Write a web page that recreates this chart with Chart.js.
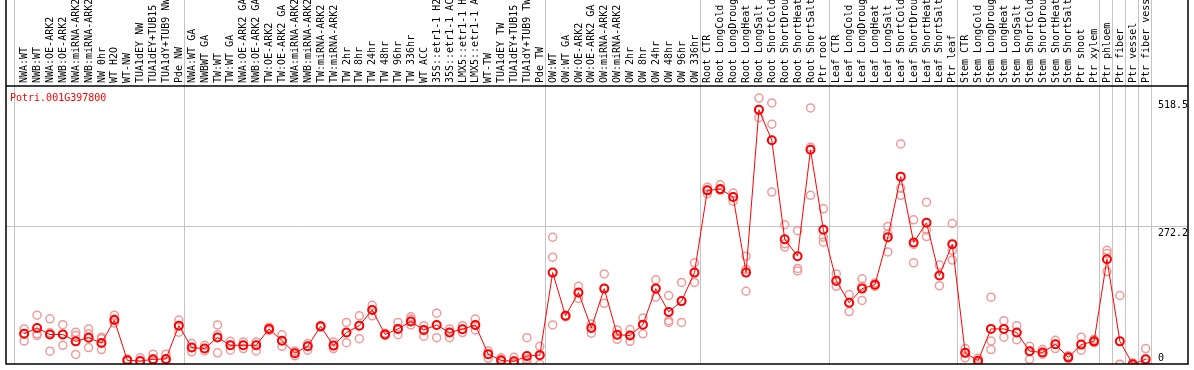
<!DOCTYPE html>
<html>
<head>
<meta charset="utf-8">
<script src="https://cdn.jsdelivr.net/npm/chart.js@4"></script>
<style>
  html, body { margin: 0; padding: 0; background: #fff; }
  canvas { display: block; }
</style>
</head>
<body>
<canvas id="chart" width="1194" height="370"></canvas>
<script>
const geneName = 'Potri.001G397800';

const categories = [
  'NWA:WT', 'NWB:WT', 'NWA:OE-ARK2', 'NWB:OE-ARK2', 'NWA:miRNA-ARK2', 'NWB:miRNA-ARK2', 'NW 0hr', 'WT H2O', 'WT-NW',
  'TUA1dEY NW', 'TUA1dEY+TUB15 NW', 'TUA1dY+TUB9 NW', 'Pde NW',
  'NWA:WT GA', 'NWBWT GA', 'TW:WT', 'TW:WT GA', 'NWA:OE-ARK2 GA', 'NWB:OE-ARK2 GA', 'TW:OE-ARK2', 'TW:OE-ARK2 GA',
  'NWA:miRNA-ARK2 GA', 'NWB:miRNA-ARK2 GA', 'TW:miRNA-ARK2', 'TW:miRNA-ARK2 GA', 'TW 2hr', 'TW 8hr', 'TW 24hr', 'TW 48hr',
  'TW 96hr', 'TW 336hr', 'WT ACC', '35S::etr1-1 H2O', '35S::etr1-1 ACC', 'LMX5::etr1-1 H2O', 'LMX5::etr1-1 ACC', 'WT-TW',
  'TUA1dEY TW', 'TUA1dEY+TUB15 TW', 'TUA1dY+TUB9 TW', 'Pde TW',
  'OW:WT', 'OW:WT GA', 'OW:OE-ARK2', 'OW:OE-ARK2 GA', 'OW:miRNA-ARK2', 'OW:miRNA-ARK2 GA', 'OW 2hr', 'OW 8hr', 'OW 24hr',
  'OW 48hr', 'OW 96hr', 'OW 336hr',
  'Root CTR', 'Root LongCold', 'Root LongDrought', 'Root LongHeat', 'Root LongSalt', 'Root ShortCold', 'Root ShortDrought',
  'Root ShortHeat', 'Root ShortSalt', 'Ptr root',
  'Leaf CTR', 'Leaf LongCold', 'Leaf LongDrought', 'Leaf LongHeat', 'Leaf LongSalt', 'Leaf ShortCold', 'Leaf ShortDrought',
  'Leaf ShortHeat', 'Leaf ShortSalt', 'Ptr leaf',
  'Stem CTR', 'Stem LongCold', 'Stem LongDrought', 'Stem LongHeat', 'Stem LongSalt', 'Stem ShortCold', 'Stem ShortDrought',
  'Stem ShortHeat', 'Stem ShortSalt', 'Ptr shoot', 'Ptr xylem',
  'Ptr phloem', 'Ptr fiber', 'Ptr vessel', 'Ptr fiber vessel'
];

// index of first category of each block (separator lines)
const groupStarts = [0, 13, 41, 53, 63, 73, 84, 85, 86, 87, 88];

const meanValues = [
  63.9, 75.2, 62.5, 62.5, 49.3, 56.3, 46.0, 90.4, 12.7, 11.4, 14.6, 15.2, 79.6,
  37.3, 35.4, 56.8, 41.7, 41.7, 41.7, 73.3, 50.6, 26.5, 39.8, 78.3, 41.1, 66.3, 79.6, 109.9, 62.5,
  73.3, 87.7, 71.4, 80.9, 66.3, 72.6, 80.9, 24.6, 12.7, 10.8, 20.8, 22.7,
  181.9, 98.5, 143.4, 75.2, 151.0, 62.0, 60.6, 81.5, 151.0, 106.1, 126.9, 181.9,
  340.5, 342.9, 327.8, 181.9, 495.8, 437.1, 246.3, 213.5, 418.7, 264.7,
  166.2, 123.7, 151.0, 158.6, 250.1, 367.0, 240.1, 277.9, 176.2, 236.8,
  27.1, 11.9, 73.3, 73.3, 66.3, 30.3, 27.9, 43.6, 18.4, 43.0, 49.3,
  207.8, 49.3, 5.1, 14.6
];

const rep1 = [
  73.3, 99.8, 92.8, 81.5, 66.9, 73.3, 57.4, 99.8, 15.2, 17.6, 24.6, 24.6, 90.4,
  44.9, 41.7, 80.9, 49.3, 47.9, 47.9, 76.4, 62.0, 30.9, 44.9, 79.6, 47.9, 85.8, 98.5, 118.8, 65.0,
  85.8, 96.6, 79.6, 103.6, 73.3, 79.6, 92.3, 30.9, 17.6, 18.4, 56.3, 39.8,
  250.1, 99.8, 155.4, 82.8, 179.4, 71.4, 72.0, 94.2, 168.1, 137.7, 162.9, 200.8,
  346.7, 351.1, 335.4, 213.5, 518.5, 509.1, 274.2, 262.8, 499.6, 305.0,
  179.4, 139.6, 170.0, 161.6, 270.9, 430.1, 283.6, 317.7, 196.5, 276.6,
  35.4, 16.5, 134.5, 89.1, 79.6, 39.8, 33.5, 51.2, 21.4, 57.4, 53.1,
  224.9, 137.7, 7.6, 35.4
];

const rep2 = [
  63.9, 63.9, 65.7, 62.5, 60.6, 63.9, 54.4, 92.3, 12.3, 11.4, 14.6, 14.6, 79.6,
  37.3, 35.4, 62.0, 41.7, 41.7, 41.7, 73.3, 50.6, 26.5, 39.8, 78.3, 41.1, 66.3, 79.6, 109.9, 62.5,
  73.3, 92.3, 70.1, 80.9, 66.3, 72.6, 80.9, 24.6, 12.7, 10.8, 15.2, 22.7,
  211.6, 98.5, 142.7, 75.2, 151.0, 62.0, 60.6, 81.5, 151.0, 89.1, 126.9, 181.9,
  340.5, 342.9, 327.8, 188.1, 496.4, 468.0, 237.4, 190.0, 423.8, 250.1,
  164.8, 123.7, 155.4, 158.6, 256.4, 344.8, 236.3, 263.9, 176.2, 224.9,
  27.1, 11.9, 49.8, 73.3, 66.3, 30.3, 27.9, 43.6, 18.4, 43.0, 49.3,
  218.5, 5.1, 5.1, 14.6
];

const rep3 = [
  49.8, 60.6, 30.3, 41.7, 24.1, 37.3, 33.5, 84.7, 11.4, 10.4, 11.4, 10.0, 66.9,
  29.0, 30.9, 27.1, 32.2, 35.4, 30.9, 70.1, 39.8, 21.4, 32.2, 76.4, 35.4, 46.8, 54.4, 98.5, 60.6,
  62.0, 80.9, 59.3, 56.3, 56.3, 66.3, 71.4, 16.5, 10.0, 7.0, 10.0, 5.1,
  80.9, 96.6, 132.1, 65.0, 122.6, 53.1, 49.3, 63.9, 134.5, 85.8, 85.8, 162.9,
  334.0, 340.5, 319.6, 145.9, 480.7, 337.3, 231.2, 185.1, 331.0, 240.6,
  155.4, 106.7, 128.3, 155.4, 221.7, 331.0, 200.8, 251.4, 156.7, 206.0,
  17.6, 8.1, 33.5, 57.4, 52.5, 14.6, 24.6, 35.4, 16.5, 32.2, 46.8,
  183.8, 4.7, 1.9, 7.0
];

const yTickValues = [518.5, 272.2, 0];
const yTickLabels = ['518.5', '272.2', '0'];
const yGridValues = [272.2];

const FONT = '10px "DejaVu Sans Mono", "Liberation Mono", monospace';

function toPoints(values) {
  return values.map((v, i) => ({ x: i, y: v }));
}

const repStyle = {
  showLine: false,
  pointRadius: 4,
  pointBorderWidth: 1.5,
  pointBorderColor: '#f09a9a',
  pointBackgroundColor: 'rgba(0,0,0,0)',
  order: 2
};

// grid lines, labels and frame
const decorPlugin = {
  id: 'decor',
  beforeDatasetsDraw(chart) {
    const ctx = chart.ctx;
    const xs = chart.scales.x;
    const ys = chart.scales.y;
    const area = chart.chartArea;
    ctx.save();
    ctx.strokeStyle = '#c4c4c4';
    ctx.lineWidth = 1;
    groupStarts.forEach((g, i) => {
      const off = i === 0 ? 0.78 : 0.6; // first line sits a bit further left
      const px = Math.round(xs.getPixelForValue(g - off)) + 0.5;
      ctx.beginPath();
      ctx.moveTo(px, 0);
      ctx.lineTo(px, area.bottom);
      ctx.stroke();
    });
    yGridValues.forEach((v) => {
      const py = Math.round(ys.getPixelForValue(v)) + 0.5;
      ctx.beginPath();
      ctx.moveTo(area.left, py);
      ctx.lineTo(area.right, py);
      ctx.stroke();
    });
    ctx.restore();
  },
  afterDraw(chart) {
    const ctx = chart.ctx;
    const xs = chart.scales.x;
    const ys = chart.scales.y;
    const area = chart.chartArea;
    ctx.save();
    ctx.font = FONT;

    // rotated category labels
    ctx.fillStyle = '#000';
    ctx.textAlign = 'left';
    ctx.textBaseline = 'middle';
    categories.forEach((name, i) => {
      const px = xs.getPixelForValue(i);
      ctx.save();
      ctx.translate(px + 0.5, area.top - 3);
      ctx.rotate(-Math.PI / 2);
      ctx.fillText(name, 0, 0);
      ctx.restore();
    });

    // right side value labels
    yTickValues.forEach((v, i) => {
      const py = Math.min(ys.getPixelForValue(v) + 10, area.bottom - 3);
      ctx.textBaseline = 'alphabetic';
      ctx.fillText(yTickLabels[i], area.right - 30, py);
    });

    // gene name
    ctx.fillStyle = '#ff0000';
    ctx.textBaseline = 'alphabetic';
    ctx.fillText(geneName, 10, area.top + 15);

    // frame
    ctx.strokeStyle = '#000';
    ctx.lineWidth = 1.5;
    ctx.beginPath();
    ctx.moveTo(area.left, 0);
    ctx.lineTo(area.left, area.bottom);
    ctx.lineTo(area.right, area.bottom);
    ctx.lineTo(area.right, 0);
    ctx.moveTo(area.left, area.top);
    ctx.lineTo(area.right, area.top);
    ctx.stroke();
    ctx.restore();
  }
};

const ctx = document.getElementById('chart').getContext('2d');
const myChart = new Chart(ctx, {
  type: 'line',
  data: {
    datasets: [
      {
        data: toPoints(meanValues),
        borderColor: '#ff0000',
        borderWidth: 1,
        pointRadius: 4,
        pointBorderWidth: 2,
        pointBorderColor: '#ff0000',
        pointBackgroundColor: 'rgba(0,0,0,0)',
        tension: 0,
        order: 1
      },
      { data: toPoints(rep1), ...repStyle },
      { data: toPoints(rep2), ...repStyle },
      { data: toPoints(rep3), ...repStyle }
    ]
  },
  options: {
    responsive: false,
    devicePixelRatio: 1,
    animation: false,
    layout: { padding: { left: 1, right: 1, top: 86, bottom: 1 } },
    plugins: {
      legend: { display: false },
      tooltip: { enabled: false }
    },
    scales: {
      x: { type: 'linear', display: false, min: -1.4077, max: 90.285 },
      y: { type: 'linear', display: false, min: 5.6, max: 541.8 }
    }
  },
  plugins: [decorPlugin]
});
</script>
</body>
</html>
